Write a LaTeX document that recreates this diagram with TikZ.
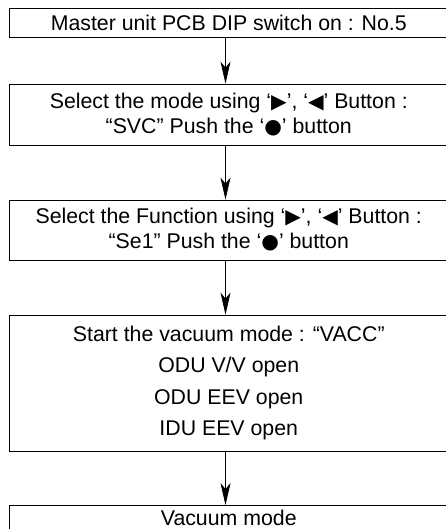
\documentclass[tikz,border=0pt]{standalone}
\usepackage{fontspec}
\setmainfont{Liberation Sans}
\newfontfamily\symf{DejaVu Sans}[Scale=0.95]
\usetikzlibrary{arrows.meta}
\newcommand\rtri{{\symf ▶}}
\newcommand\ltri{{\symf ◀}}
\newcommand\bul{{\symf ●}}
\begin{document}
\begin{tikzpicture}[x=1pt,y=-1pt,
  box/.style={draw, line width=0.8pt, minimum width=438.5pt, inner sep=0pt, align=center, text=black,
    font=\fontsize{21.3}{25}\selectfont},
  flow/.style={-{Stealth[length=22pt,width=10pt,inset=6pt]}, line width=0.7pt}]
\useasboundingbox (0,0) rectangle (446,529);
\node[box, minimum height=29pt] (b1) at (228.75,22.5) {Master unit PCB DIP switch on : No.5};
\node[box, minimum height=61pt] (b2) at (228.75,114.5) {Select the mode using ‘\rtri’, ‘\ltri’ Button :\\“SVC” Push the ‘\bul’ button};
\node[box, minimum height=60pt] (b3) at (228.75,230) {Select the Function using ‘\rtri’, ‘\ltri’ Button :\\“Se1” Push the ‘\bul’ button};
\node[box, minimum height=136pt, font=\fontsize{21.3}{31.5}\selectfont] (b4) at (228.75,383) {Start the vacuum mode : “VACC”\\ODU V/V open\\ODU EEV open\\IDU EEV open};
\node[box, minimum height=25pt] (b5) at (228.75,518) {Vacuum mode};
\draw[flow] ([xshift=-3.25pt]b1.south) -- ([xshift=-3.25pt]b2.north);
\draw[flow] ([xshift=-3.25pt]b2.south) -- ([xshift=-3.25pt]b3.north);
\draw[flow] ([xshift=-3.25pt]b3.south) -- ([xshift=-3.25pt]b4.north);
\draw[flow] ([xshift=-3.25pt]b4.south) -- ([xshift=-3.25pt]b5.north);
\end{tikzpicture}
\end{document}
